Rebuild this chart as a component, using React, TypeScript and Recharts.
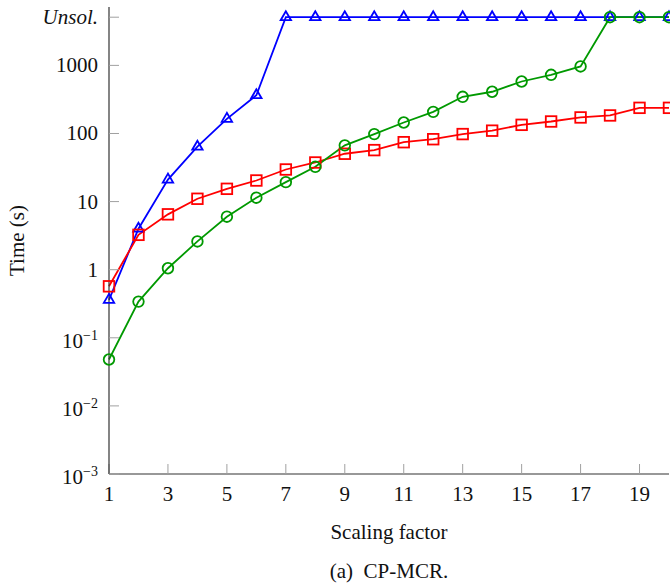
import { LineChart, Line, XAxis, YAxis } from "recharts";

// "Unsol." runs are drawn at a fixed height above 1000
const UNSOL = 5100;

const scalingFactors = [1, 2, 3, 4, 5, 6, 7, 8, 9, 10, 11, 12, 13, 14, 15, 16, 17, 18, 19, 20];

const blueTimes = [
  0.36, 4.0, 21, 64, 164, 365, UNSOL, UNSOL, UNSOL, UNSOL,
  UNSOL, UNSOL, UNSOL, UNSOL, UNSOL, UNSOL, UNSOL, UNSOL, UNSOL, UNSOL,
];
const redTimes = [
  0.57, 3.25, 6.5, 11, 15.4, 20.4, 29.6, 37.5, 50.4, 57,
  74.5, 82.4, 98, 110, 134, 150, 172, 184, 238, 238,
];
const greenTimes = [
  0.048, 0.34, 1.05, 2.6, 6.0, 11.4, 19.3, 32.4, 67, 98,
  145, 208, 346, 410, 580, 728, 964, UNSOL, UNSOL, UNSOL,
];

const xTicks = [1, 3, 5, 7, 9, 11, 13, 15, 17, 19];
const yTicks = [0.001, 0.01, 0.1, 1, 10, 100, 1000, UNSOL];
const yTickLabels = ["10^-3", "10^-2", "10^-1", "1", "10", "100", "1000", "Unsol."];

const data = scalingFactors.map((x, i) => ({
  x,
  blue: blueTimes[i],
  red: redTimes[i],
  green: greenTimes[i],
}));

const FONT = "'Liberation Serif', 'Times New Roman', serif";
const TEXT = "#111";
const TICK_GRAY = "#a0a0a0";
const AXIS = "#333";

function YTick(props: any) {
  const { x, y, payload } = props;
  const label = yTickLabels[yTicks.indexOf(payload.value)] ?? "";
  if (label.startsWith("10^")) {
    const exp = label.slice(3).replace("-", "\u2212");
    return (
      <text x={x} y={y + 10} textAnchor="end" fontFamily={FONT} fontSize={21} fill={TEXT}>
        10
        <tspan dy={-8} fontSize={14}>{exp}</tspan>
      </text>
    );
  }
  return (
    <text
      x={x}
      y={y + 7}
      textAnchor="end"
      fontFamily={FONT}
      fontSize={21}
      fontStyle={label === "Unsol." ? "italic" : "normal"}
      fill={TEXT}
    >
      {label}
    </text>
  );
}

function XTick(props: any) {
  const { x, y, payload } = props;
  return (
    <text x={x} y={y + 7} textAnchor="middle" fontFamily={FONT} fontSize={21} fill={TEXT}>
      {payload.value}
    </text>
  );
}

const noTick = () => <g />;

function Triangle(props: any) {
  const { cx, cy, key } = props;
  const r = 6;
  const pts = `${cx},${cy - r} ${cx - 0.866 * r},${cy + 0.5 * r} ${cx + 0.866 * r},${cy + 0.5 * r}`;
  return <polygon key={key} points={pts} fill="none" stroke="#0000ff" strokeWidth={1.8} />;
}

function Square(props: any) {
  const { cx, cy, key } = props;
  return (
    <rect key={key} x={cx - 5.3} y={cy - 5.3} width={10.6} height={10.6} fill="none" stroke="#ff0000" strokeWidth={1.8} />
  );
}

function Circle(props: any) {
  const { cx, cy, key } = props;
  return <circle key={key} cx={cx} cy={cy} r={5.3} fill="none" stroke="#009900" strokeWidth={1.8} />;
}

export default function App() {
  return (
    <div style={{ position: "absolute", left: 0, top: 0, width: 670, height: 588, background: "#fff" }}>
      <LineChart width={670} height={588} data={data} margin={{ top: 7, right: 1, left: 0, bottom: 44 }}>
        <XAxis
          xAxisId="bottom"
          dataKey="x"
          type="number"
          domain={[1, 20]}
          ticks={xTicks}
          height={70}
          tickSize={-10}
          tickMargin={30}
          tickLine={{ stroke: TICK_GRAY }}
          axisLine={{ stroke: AXIS, strokeWidth: 1.2 }}
          tick={<XTick />}
          label={{ value: "Scaling factor", position: "insideBottom", offset: 5, fontFamily: FONT, fontSize: 21, fill: TEXT }}
        />
        <XAxis
          xAxisId="top"
          orientation="top"
          dataKey="x"
          type="number"
          domain={[1, 20]}
          ticks={xTicks}
          height={0}
          tickSize={-10}
          tickLine={{ stroke: TICK_GRAY }}
          axisLine={{ stroke: AXIS, strokeWidth: 1.2 }}
          tick={noTick}
        />
        <YAxis
          yAxisId="left"
          scale="log"
          type="number"
          domain={[0.001, 7200]}
          allowDataOverflow
          ticks={yTicks}
          width={109}
          tickSize={-10}
          tickMargin={21}
          tickLine={{ stroke: TICK_GRAY }}
          axisLine={{ stroke: AXIS, strokeWidth: 1.2 }}
          tick={<YTick />}
          label={{
            value: "Time (s)",
            angle: -90,
            position: "insideLeft",
            offset: 17,
            fontFamily: FONT,
            fontSize: 21,
            fill: TEXT,
            style: { textAnchor: "middle" },
          }}
        />
        <YAxis
          yAxisId="right"
          orientation="right"
          scale="log"
          type="number"
          domain={[0.001, 7200]}
          allowDataOverflow
          ticks={yTicks}
          width={0}
          tickSize={-10}
          tickLine={{ stroke: TICK_GRAY }}
          axisLine={{ stroke: AXIS, strokeWidth: 1.2 }}
          tick={noTick}
        />
        <Line
          xAxisId="bottom"
          yAxisId="left"
          dataKey="blue"
          stroke="#0000ff"
          strokeWidth={1.8}
          dot={Triangle}
          isAnimationActive={false}
        />
        <Line
          xAxisId="bottom"
          yAxisId="left"
          dataKey="red"
          stroke="#ff0000"
          strokeWidth={1.8}
          dot={Square}
          isAnimationActive={false}
        />
        <Line
          xAxisId="bottom"
          yAxisId="left"
          dataKey="green"
          stroke="#009900"
          strokeWidth={1.8}
          dot={Circle}
          isAnimationActive={false}
        />
      </LineChart>
      <div
        style={{
          position: "absolute",
          left: 0,
          top: 561,
          width: 778,
          textAlign: "center",
          fontFamily: FONT,
          fontSize: 21,
          lineHeight: "21px",
          color: TEXT,
          whiteSpace: "pre",
        }}
      >
        {"(a)  CP-MCR."}
      </div>
    </div>
  );
}
